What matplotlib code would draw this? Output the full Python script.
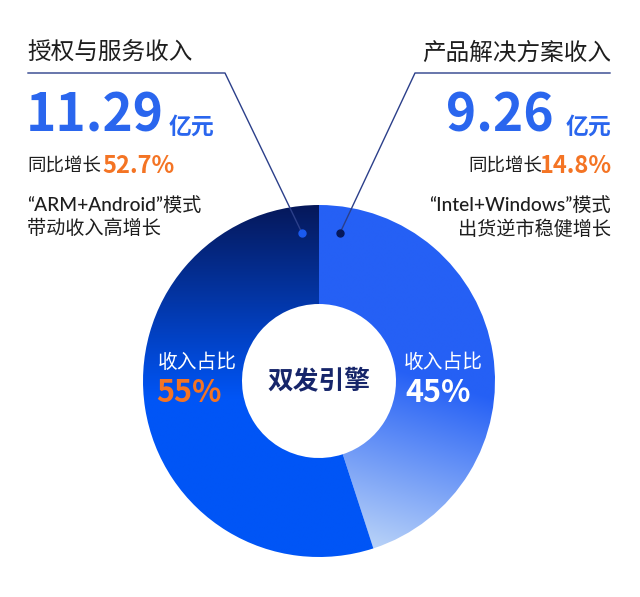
import numpy as np
import matplotlib
matplotlib.use("Agg")
import matplotlib.pyplot as plt
from matplotlib.colors import to_rgb

plt.rcParams["font.family"] = ["Noto Sans CJK SC", "DejaVu Sans"]
MIXED = ["Lato", "Noto Sans CJK SC", "DejaVu Sans"]

# data
segments = ["产品解决方案收入", "授权与服务收入"]   # clockwise from top
shares = [45, 55]
amounts = ["9.26", "11.29"]
growth = ["14.8%", "52.7%"]
notes = [["“Intel+Windows”模式", "出货逆市稳健增长"],
         ["“ARM+Android”模式", "带动收入高增长"]]
center_label = "双发引擎"
share_label = "收入占比"
unit = "亿元"
growth_label = "同比增长"

W, H = 640, 597
NAVY = "#06185a"
BLUE = "#2a66ee"
ORANGE = "#f47424"
DARK = "#1e1e1e"
LINE = "#2b3f8a"

fig = plt.figure(figsize=(W / 100, H / 100), dpi=100)
fig.patch.set_facecolor("white")


def fx(x):
    return x / W


def fy(y):
    return 1 - y / H


# donut
cx, cy, r = 319, 381, 176
ax = fig.add_axes([fx(cx - r), fy(cy + r), 2 * r / W, 2 * r / H])
wedges, _ = ax.pie(shares, startangle=90, counterclock=False, radius=1,
                   wedgeprops=dict(width=1 - 77 / 176, edgecolor="none"))
ax.set_xlim(-1, 1)
ax.set_ylim(-1, 1)
ax.axis("off")

gx, gy = np.meshgrid(np.linspace(-1, 1, 400), np.linspace(1, -1, 400))


def gradient(t, c0, c1):
    t = np.clip(t, 0, 1)[..., None]
    return (1 - t) * np.array(to_rgb(c0)) + t * np.array(to_rgb(c1))


# right wedge: blue at top, light towards bottom-left
t_right = (0.05 - gy - 0.3 * (gx - 0.5)) / 1.05
img_right = gradient(t_right, "#2560f5", "#b8d2f8")
# left wedge: navy at top, bright blue lower down
t_left = (1 - gy) / 1.1
img_left = gradient(t_left, NAVY, "#0055f6")

for w, img in zip(wedges, [img_right, img_left]):
    im = ax.imshow(img, extent=(-1, 1, -1, 1), zorder=1, aspect="auto")
    im.set_clip_path(w)
    w.set_facecolor("none")

# inner labels
ax.text(0, 0, center_label, ha="center", va="center", fontsize=18.5,
        fontweight="bold", color="#16256a", zorder=5)
fig.text(fx(197), fy(362), share_label, ha="center", va="center",
         fontsize=14.2, color="white")
fig.text(fx(443), fy(362), share_label, ha="center", va="center",
         fontsize=14.2, color="white")
fig.text(fx(156), fy(393), f"{shares[1]}%", ha="left", va="center",
         fontsize=22, fontweight="bold", color=ORANGE)
fig.text(fx(471), fy(393), f"{shares[0]}%", ha="right", va="center",
         fontsize=22, fontweight="bold", color="white")

# leader lines
fig.add_artist(plt.Line2D([fx(28), fx(225), fx(302)], [fy(73), fy(73), fy(233)],
                          color=LINE, lw=1.0))
fig.add_artist(plt.Line2D([fx(610), fx(415), fx(340)], [fy(73), fy(73), fy(233)],
                          color=LINE, lw=1.0))
fig.add_artist(plt.Line2D([fx(302)], [fy(233)], marker="o", ms=5,
                          color="#1a5af0", lw=0))
fig.add_artist(plt.Line2D([fx(340)], [fy(233)], marker="o", ms=5,
                          color=NAVY, lw=0))

# left block
fig.text(fx(27), fy(53), segments[1], ha="left", va="center",
         fontsize=17, fontweight="medium", color=DARK)
fig.text(fx(26), fy(116), amounts[1], ha="left", va="center",
         fontsize=37, fontweight="bold", color=BLUE)
fig.text(fx(169), fy(127), unit, ha="left", va="center",
         fontsize=16.5, fontweight="bold", color=BLUE)
fig.text(fx(27), fy(167), growth_label, ha="left", va="center",
         fontsize=13.3, fontweight="medium", color=DARK)
fig.text(fx(102), fy(166), growth[1], ha="left", va="center",
         fontsize=17, fontweight="bold", color=ORANGE)
fig.text(fx(27), fy(205), notes[1][0], ha="left", va="center",
         fontsize=13.8, fontweight="medium", color=DARK, family=MIXED)
fig.text(fx(27), fy(229), notes[1][1], ha="left", va="center",
         fontsize=13.8, fontweight="medium", color=DARK)

# right block
fig.text(fx(611), fy(53), segments[0], ha="right", va="center",
         fontsize=17, fontweight="medium", color=DARK)
fig.text(fx(554), fy(116), amounts[0], ha="right", va="center",
         fontsize=37, fontweight="bold", color=BLUE)
fig.text(fx(611), fy(127), unit, ha="right", va="center",
         fontsize=16.5, fontweight="bold", color=BLUE)
fig.text(fx(542), fy(167), growth_label, ha="right", va="center",
         fontsize=13.3, fontweight="medium", color=DARK)
fig.text(fx(611), fy(166), growth[0], ha="right", va="center",
         fontsize=17, fontweight="bold", color=ORANGE)
fig.text(fx(611), fy(205), notes[0][0], ha="right", va="center",
         fontsize=13.8, fontweight="medium", color=DARK, family=MIXED)
fig.text(fx(611), fy(229), notes[0][1], ha="right", va="center",
         fontsize=13.8, fontweight="medium", color=DARK)

fig.savefig("out.png", dpi=100)
